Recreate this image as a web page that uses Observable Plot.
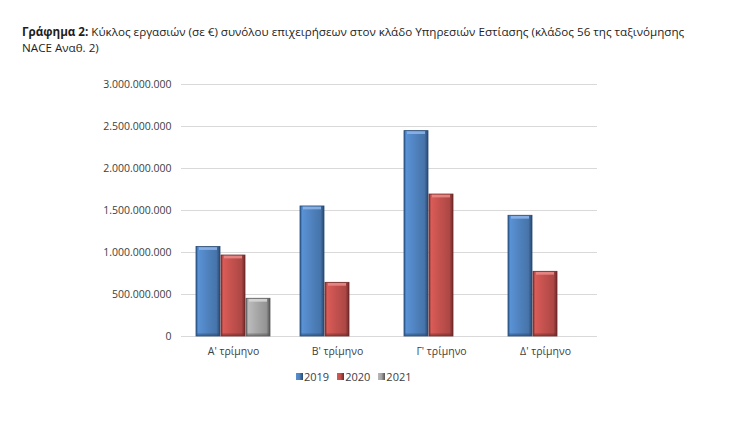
<!DOCTYPE html>
<html><head><meta charset="utf-8">
<script src="https://cdn.jsdelivr.net/npm/d3@7"></script>
<script src="https://cdn.jsdelivr.net/npm/@observablehq/plot@0.6"></script>
<style>
body{margin:0;background:#fff;width:750px;height:430px;position:relative;overflow:hidden;font-family:"Open Sans",sans-serif;}
#title{position:absolute;left:22px;top:24px;font-size:11.65px;line-height:16px;color:#1e1e1e;white-space:nowrap;}
#title b{font-weight:700;}
#chart{position:absolute;left:0;top:62px;}
#legend{position:absolute;top:369px;left:296px;font-size:11px;color:#404040;display:flex;align-items:center;}
#legend .it{display:flex;align-items:center;margin-right:8px;}
#legend .sw{width:7px;height:7px;margin-right:1px;}
</style>
</head><body>
<div id="title"><b>Γράφημα 2:</b> Κύκλος εργασιών (σε €) συνόλου επιχειρήσεων στον κλάδο Υπηρεσιών Εστίασης (κλάδος 56 της ταξινόμησης<br>NACE Αναθ. 2)</div>
<div id="chart"></div>
<div id="legend"></div>
<script>
const quarters = ["Α' τρίμηνο", "Β' τρίμηνο", "Γ' τρίμηνο", "Δ' τρίμηνο"];
const years = ["2019", "2020", "2021"];
const v2019 = [1065e6, 1548e6, 2445e6, 1437e6];
const v2020 = [964e6, 639e6, 1690e6, 770e6];
const v2021 = [449e6, null, null, null];
const yTicks = [0, 5e8, 1e9, 1.5e9, 2e9, 2.5e9, 3e9];

const baseColors = {"2019": "#4f81bd", "2020": "#c0504d", "2021": "#a5a5a5"};
const lightColors = {"2019": "#8db4e8", "2020": "#e88a87", "2021": "#d6d6d6"};
const darkColors = {"2019": "#274a73", "2020": "#6e2a28", "2021": "#555555"};

const series = {"2019": v2019, "2020": v2020, "2021": v2021};
const data = [];
quarters.forEach((q, i) => {
  years.forEach(y => {
    const v = series[y][i];
    if (v != null) data.push({quarter: q, year: y, value: v});
  });
});

const loc = d3.formatLocale({decimal: ",", thousands: ".", grouping: [3], currency: ["", "€"]});
const fmt = loc.format(",");

const plot = Plot.plot({
  width: 750,
  height: 300,
  marginLeft: 180,
  marginRight: 153,
  marginTop: 22,
  marginBottom: 26,
  style: {fontFamily: "Open Sans, sans-serif", fontSize: "10.5px", color: "#404040", background: "transparent"},
  fx: {domain: quarters, padding: 0, label: null, axis: null},
  x: {domain: years, paddingInner: 0.05, paddingOuter: 0.6, axis: null},
  y: {domain: [0, 3e9], ticks: yTicks, label: null},
  marks: [
    Plot.gridY(yTicks, {stroke: "#d9d9d9", strokeOpacity: 1}),
    Plot.axisY({ticks: yTicks, tickFormat: fmt, tickSize: 0, tickPadding: 10, label: null, fill: "#404040"}),
    Plot.axisFx({anchor: "bottom", tickSize: 0, tickPadding: 11, label: null, fill: "#404040", fontSize: 10.5}),
    Plot.barY(data, {fx: "quarter", x: "year", y: "value", fill: d => `url(#grad${d.year})`, stroke: d => darkColors[d.year], strokeWidth: 0.8}),
    Plot.barY(data, {fx: "quarter", x: "year", y1: d => d.value - 40e6, y2: d => d.value - 8e6, fill: d => lightColors[d.year], insetLeft: 3, insetRight: 3, fillOpacity: 0.9}),
    Plot.barY(data, {fx: "quarter", x: "year", y1: 0, y2: d => Math.min(d.value, 30e6), fill: d => darkColors[d.year], insetLeft: 1, insetRight: 1, fillOpacity: 0.45})
  ]
});

const svg = d3.select(plot);
const defs = svg.insert("defs", ":first-child");
years.forEach(y => {
  const g = defs.append("linearGradient").attr("id", "grad" + y).attr("x1", "0").attr("x2", "1").attr("y1", "0").attr("y2", "0");
  const base = d3.color(baseColors[y]);
  const stops = [
    [0, d3.color(darkColors[y]).brighter(0.6)],
    [0.1, base.brighter(0.35)],
    [0.5, base],
    [0.85, base.darker(0.3)],
    [1, d3.color(darkColors[y])]
  ];
  stops.forEach(([o, c]) => g.append("stop").attr("offset", o).attr("stop-color", c.formatHex()));
});

document.getElementById("chart").appendChild(plot);

const legend = document.getElementById("legend");
years.forEach(y => {
  const it = document.createElement("div");
  it.className = "it";
  const sw = document.createElement("div");
  sw.className = "sw";
  sw.style.background = `linear-gradient(to right, ${d3.color(baseColors[y]).brighter(0.3)}, ${baseColors[y]}, ${darkColors[y]})`;
  const t = document.createElement("span");
  t.textContent = y;
  it.appendChild(sw); it.appendChild(t);
  legend.appendChild(it);
});
</script>
</body></html>
